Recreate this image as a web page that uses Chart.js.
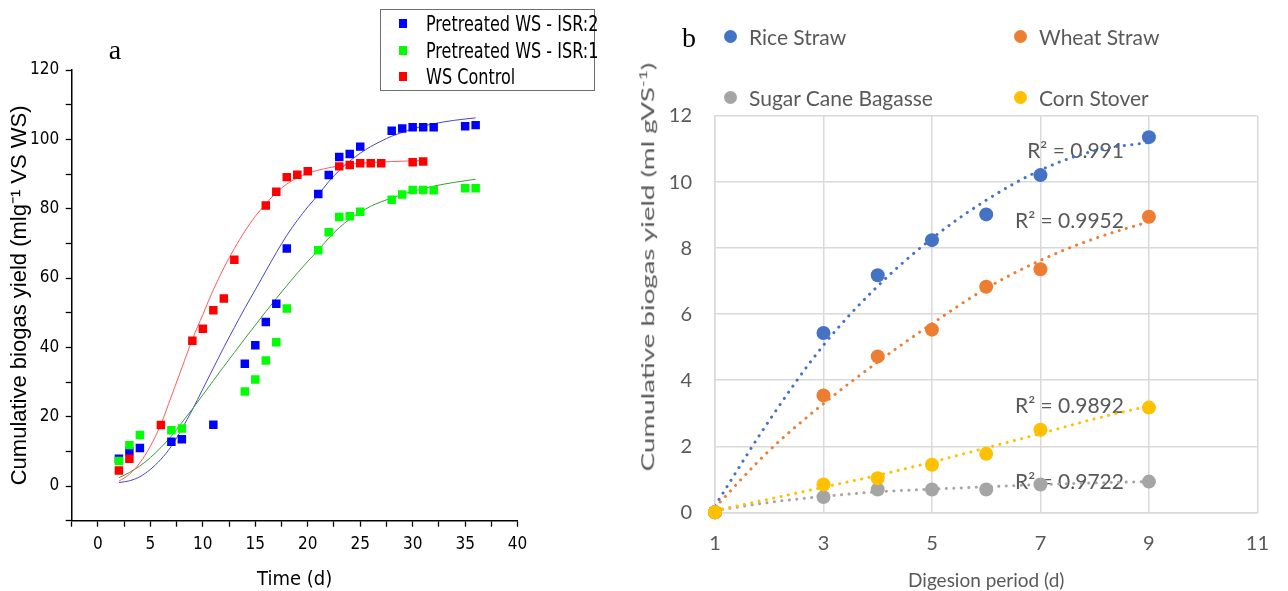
<!DOCTYPE html>
<html lang="en">
<head>
    <meta charset="UTF-8">
    <meta name="viewport" content="width=device-width, initial-scale=1.0">
    <title>Cumulative biogas yield</title>
    <script src="https://cdn.jsdelivr.net/npm/chart.js"></script>
    <style>
        html, body { margin: 0; padding: 0; background: #fff; }
        .page { position: relative; width: 1288px; height: 591px; overflow: hidden; }
        .chart-box { position: absolute; top: 0; height: 591px; }
        #boxA { left: 0; width: 640px; }
        #boxB { left: 640px; width: 648px; }

        .panel-tag { position: absolute; font-family: 'Liberation Serif', 'Times New Roman', serif;
                     font-size: 28px; line-height: 28px; color: #000; transform: translate(-50%, -50%); }

        /* legend of panel a */
        .legend-a { position: absolute; left: 380px; top: 9px; width: 215px; height: 82px;
                    border: 1px solid #6e6e6e; box-sizing: border-box; background: #fff;
                    font-family: 'Liberation Sans Narrow', 'DejaVu Sans Condensed', 'Roboto', sans-serif;
                    font-size: 21px; color: #000; }
        .legend-a .item { position: absolute; left: 45px; height: 22px; line-height: 22px; white-space: nowrap; }
        .legend-a .item b { font-weight: normal; display: inline-block; transform: scaleX(0.85); transform-origin: left center; }
        .legend-a .mark { position: absolute; left: -27px; top: 6px; width: 8px; height: 9px; }

        /* legend of panel b */
        .legend-b { position: absolute; height: 24px; line-height: 24px; white-space: nowrap;
                    font-family: Lato, 'Open Sans', sans-serif; font-size: 21px; color: #595959; }
        .legend-b .dot { position: absolute; left: -25px; top: 5px; width: 13px; height: 13px; border-radius: 50%; }

        .ytitle-b { position: absolute; left: 647px; top: 267px; white-space: nowrap;
                    font-family: Lato, 'Open Sans', sans-serif; font-size: 17px; color: #595959;
                    transform: translate(-50%, -50%) rotate(-90deg) scaleX(1.63); }
        .ytitle-b sup { font-size: 11px; }
    </style>
</head>
<body>
<div class="page">
    <div class="chart-box" id="boxA"><canvas id="chartA"></canvas></div>
    <div class="chart-box" id="boxB"><canvas id="chartB"></canvas></div>

    <div class="panel-tag" style="left:115px; top:50px;">a</div>
    <div class="panel-tag" style="left:689px; top:38px;">b</div>

    <div class="legend-a">
        <div class="item" style="top:3px;"><span class="mark" style="background:#0000ff"></span><b>Pretreated WS - ISR:2</b></div>
        <div class="item" style="top:30px;"><span class="mark" style="background:#00ff00"></span><b>Pretreated WS - ISR:1</b></div>
        <div class="item" style="top:56px;"><span class="mark" style="background:#ff0000"></span><b>WS Control</b></div>
    </div>

    <div class="legend-b" style="left:749px; top:25px;"><span class="dot" style="background:#4472c4"></span>Rice Straw</div>
    <div class="legend-b" style="left:1039px; top:25px;"><span class="dot" style="background:#ed7d31"></span>Wheat Straw</div>
    <div class="legend-b" style="left:749px; top:86px;"><span class="dot" style="background:#a5a5a5"></span>Sugar Cane Bagasse</div>
    <div class="legend-b" style="left:1039px; top:86px;"><span class="dot" style="background:#ffc000"></span>Corn Stover</div>

    <div class="ytitle-b">Cumulative biogas yield (ml gVS<sup>-1</sup>)</div>
</div>

<script>
    // ---- panel a: measured points ----
    const daysIsr2 = [2, 3, 4, 7, 8, 11, 14, 15, 16, 17, 18, 21, 22, 23, 24, 25, 28, 29, 30, 31, 32, 35, 36];
    const pretreatedIsr2 = [7.9, 10, 11, 12.8, 13.5, 17.7, 35.3, 40.6, 47.3, 52.6, 68.5, 84.2, 89.7, 94.9, 95.8, 97.9, 102.5, 103.1, 103.5, 103.5, 103.5, 103.8, 104.1];
    const daysIsr1 = [2, 3, 4, 7, 8, 14, 15, 16, 17, 18, 21, 22, 23, 24, 25, 28, 29, 30, 31, 32, 35, 36];
    const pretreatedIsr1 = [7.2, 11.8, 14.7, 16.1, 16.6, 27.3, 30.7, 36.2, 41.5, 51.2, 68, 73.2, 77.6, 77.8, 79.1, 82.6, 84.1, 85.4, 85.4, 85.3, 85.9, 85.9];
    const daysControl = [2, 3, 6, 9, 10, 11, 12, 13, 16, 17, 18, 19, 20, 23, 24, 25, 26, 27, 30, 31];
    const wsControl = [4.5, 7.9, 17.6, 41.9, 45.4, 50.7, 54.1, 65.3, 80.9, 84.9, 89.1, 89.8, 90.8, 92.2, 92.6, 93.1, 93.1, 93.1, 93.4, 93.6];

    // ---- panel a: fitted curves ----
    const fitDaysIsr2 = [2, 3, 4, 5, 6, 7, 8, 9, 10, 11, 12, 13, 14, 15, 16, 17, 18, 19, 20, 21, 22, 23, 24, 25, 26, 27, 28, 29, 30, 32, 34, 36];
    const fitIsr2 = [1.0, 1.5, 2.7, 4.8, 7.7, 11.5, 16.5, 22, 28, 34, 40, 45.7, 51.3, 56.6, 62, 67.3, 72.3, 76.6, 80.5, 84, 87.8, 91, 93.7, 96, 97.9, 99.5, 100.9, 102, 103, 104.5, 105.5, 106.2];
    const fitDaysIsr1 = [2, 3, 4, 5, 6, 7, 8, 9, 10, 11, 12, 13, 14, 15, 16, 17, 18, 19, 20, 21, 22, 23, 24, 25, 26, 27, 28, 30, 32, 34, 36];
    const fitIsr1 = [2.4, 3.9, 5.8, 8.2, 11.1, 14.4, 18.3, 22.2, 26.3, 30.4, 34.5, 38.5, 42.5, 46.4, 50.3, 54.1, 57.8, 61.4, 64.8, 68, 71.5, 74.5, 77, 79, 80.7, 82, 83.1, 85, 86.5, 87.6, 88.5];
    const fitDaysControl = [2, 3, 4, 5, 6, 7, 8, 9, 10, 11, 12, 13, 14, 15, 16, 17, 18, 19, 20, 22, 24, 26, 28, 31];
    const fitControl = [1.4, 3.4, 6.7, 11.5, 17.8, 25.9, 34.1, 42.3, 49.5, 56.6, 62.9, 68.5, 73.5, 77.8, 81.4, 84.6, 87.1, 88.9, 90.2, 91.8, 92.8, 93.3, 93.6, 93.9];

    // ---- panel b: measured points ----
    const digestionDays = [1, 3, 4, 5, 6, 7, 9];
    const riceStraw = [0, 5.43, 7.18, 8.24, 9.02, 10.21, 11.36];
    const wheatStraw = [0, 3.54, 4.72, 5.53, 6.83, 7.36, 8.95];
    const sugarCaneBagasse = [0, 0.46, 0.69, 0.69, 0.69, 0.84, 0.93];
    const cornStover = [0, 0.84, 1.03, 1.44, 1.77, 2.5, 3.17];

    // ---- panel b: polynomial trendlines ----
    const trendDays = [1, 2, 3, 4, 5, 6, 7, 8, 9];
    const riceTrend = [0.2, 2.78, 5.06, 6.85, 8.29, 9.45, 10.36, 10.95, 11.2];
    const wheatTrend = [0.15, 1.87, 3.29, 4.55, 5.71, 6.78, 7.63, 8.29, 8.8];
    const bagasseTrend = [0.05, 0.3, 0.48, 0.62, 0.7, 0.77, 0.84, 0.89, 0.93];
    const cornTrend = [0.05, 0.4, 0.76, 1.12, 1.52, 1.95, 2.38, 2.83, 3.22];
    const rSquared = ['0.991', '0.9952', '0.9892', '0.9722'];

    // where the R² texts sit (right end, in axis units)
    const r2LabelX = 8.54;
    const r2LabelY = [10.92, 8.8, 3.2, 0.9];

    function pairs(xs, ys) {
        return xs.map((x, i) => ({ x: x, y: ys[i] }));
    }

    const narrow = "'Liberation Sans Narrow', 'DejaVu Sans Condensed', 'Roboto', sans-serif";
    const calibriLike = "Lato, 'Open Sans', sans-serif";

    // Grafik a
    new Chart(document.getElementById('chartA'), {
        type: 'scatter',
        data: {
            datasets: [
                { label: 'WS Control', data: pairs(daysControl, wsControl), pointStyle: 'rect', pointRadius: 6,
                  backgroundColor: '#ff0000', borderWidth: 0, order: 1 },
                { label: 'Pretreated WS - ISR:1', data: pairs(daysIsr1, pretreatedIsr1), pointStyle: 'rect', pointRadius: 6,
                  backgroundColor: '#00ff00', borderWidth: 0, order: 2 },
                { label: 'Pretreated WS - ISR:2', data: pairs(daysIsr2, pretreatedIsr2), pointStyle: 'rect', pointRadius: 6,
                  backgroundColor: '#0000ff', borderWidth: 0, order: 3 },
                { label: 'fit control', data: pairs(fitDaysControl, fitControl), showLine: true, pointRadius: 0,
                  borderColor: '#ff5a5a', borderWidth: 1, cubicInterpolationMode: 'monotone', order: 4 },
                { label: 'fit ISR:1', data: pairs(fitDaysIsr1, fitIsr1), showLine: true, pointRadius: 0,
                  borderColor: '#3a9a3a', borderWidth: 1, cubicInterpolationMode: 'monotone', order: 5 },
                { label: 'fit ISR:2', data: pairs(fitDaysIsr2, fitIsr2), showLine: true, pointRadius: 0,
                  borderColor: '#4646c8', borderWidth: 1, cubicInterpolationMode: 'monotone', order: 6 }
            ]
        },
        options: {
            responsive: true,
            maintainAspectRatio: false,
            animation: false,
            layout: { padding: { top: 70, right: 122.4, left: 0, bottom: 0 } },
            plugins: { legend: { display: false }, tooltip: { enabled: false } },
            scales: {
                x: {
                    type: 'linear', min: -2.5, max: 40,
                    afterFit: s => { s.height = 70.3; },
                    grid: { drawOnChartArea: false, drawTicks: true, tickLength: 6, color: '#000', tickWidth: 1.3 },
                    border: { display: true, color: '#000', width: 1.5 },
                    ticks: { stepSize: 2.5, autoSkip: false, maxRotation: 0, padding: 8, color: '#000',
                             font: { family: narrow, size: 17 },
                             callback: v => (v % 5 === 0 ? v : '') },
                    title: { display: true, text: 'Time (d)', color: '#000',
                             font: { family: narrow, size: 20, lineHeight: 1 }, padding: { top: 0, bottom: 1 } }
                },
                y: {
                    type: 'linear', min: -10, max: 120,
                    afterFit: s => { s.width = 71.7; },
                    grid: { drawOnChartArea: false, drawTicks: true, tickLength: 6, color: '#000', tickWidth: 1.3 },
                    border: { display: true, color: '#000', width: 1.5 },
                    ticks: { stepSize: 10, autoSkip: false, padding: 6.5, color: '#000',
                             font: { family: narrow, size: 17 },
                             callback: v => (v % 20 === 0 ? v : '') },
                    title: { display: true, text: 'Cumulative biogas yield (mlg\u207B\u00B9 VS WS)', color: '#000',
                             font: { family: "'Liberation Sans', Arial, sans-serif", size: 22, lineHeight: 1 },
                             padding: { top: 9.4, bottom: 0 } }
                }
            }
        }
    });

    // R² yazıları
    const r2Labels = {
        id: 'r2Labels',
        beforeDatasetsDraw(chart) {
            const { ctx, scales: { x, y } } = chart;
            ctx.save();
            ctx.font = '21px ' + calibriLike;
            ctx.fillStyle = '#595959';
            ctx.textAlign = 'right';
            ctx.textBaseline = 'middle';
            rSquared.forEach((r, i) => {
                ctx.fillText('R\u00B2 = ' + r, x.getPixelForValue(r2LabelX), y.getPixelForValue(r2LabelY[i]));
            });
            ctx.restore();
        }
    };

    const dotted = { showLine: true, pointRadius: 0, borderWidth: 3, borderDash: [0.1, 7.4],
                     borderCapStyle: 'round', cubicInterpolationMode: 'monotone' };

    // Grafik b
    new Chart(document.getElementById('chartB'), {
        type: 'scatter',
        data: {
            datasets: [
                { label: 'Corn Stover', data: pairs(digestionDays, cornStover), pointRadius: 7, borderWidth: 0,
                  backgroundColor: '#ffc000', clip: false, order: 1 },
                { label: 'Sugar Cane Bagasse', data: pairs(digestionDays, sugarCaneBagasse), pointRadius: 7, borderWidth: 0,
                  backgroundColor: '#a5a5a5', clip: false, order: 2 },
                { label: 'Wheat Straw', data: pairs(digestionDays, wheatStraw), pointRadius: 7, borderWidth: 0,
                  backgroundColor: '#ed7d31', clip: false, order: 3 },
                { label: 'Rice Straw', data: pairs(digestionDays, riceStraw), pointRadius: 7, borderWidth: 0,
                  backgroundColor: '#4472c4', clip: false, order: 4 },
                Object.assign({ label: 'Corn trend', data: pairs(trendDays, cornTrend), borderColor: '#ffc000', order: 5 }, dotted),
                Object.assign({ label: 'Bagasse trend', data: pairs(trendDays, bagasseTrend), borderColor: '#a5a5a5', order: 6 }, dotted),
                Object.assign({ label: 'Wheat trend', data: pairs(trendDays, wheatTrend), borderColor: '#ed7d31', order: 7 }, dotted),
                Object.assign({ label: 'Rice trend', data: pairs(trendDays, riceTrend), borderColor: '#4472c4', order: 8 }, dotted)
            ]
        },
        options: {
            responsive: true,
            maintainAspectRatio: false,
            animation: false,
            layout: { padding: { top: 116, right: 27.5, left: 0, bottom: 0 } },
            plugins: { legend: { display: false }, tooltip: { enabled: false } },
            scales: {
                x: {
                    type: 'linear', min: 1, max: 11,
                    afterFit: s => { s.height = 78.7; },
                    grid: { color: '#d9d9d9', lineWidth: 1.5, drawTicks: false },
                    border: { color: '#d9d9d9', width: 1.5 },
                    ticks: { stepSize: 2, autoSkip: false, maxRotation: 0, padding: 19, color: '#595959',
                             font: { family: calibriLike, size: 20 } },
                    title: { display: true, text: 'Digesion period (d)', color: '#595959',
                             font: { family: calibriLike, size: 19, lineHeight: 1 }, padding: { top: 0, bottom: 1 } }
                },
                y: {
                    type: 'linear', min: 0, max: 12,
                    afterFit: s => { s.width = 75; },
                    grid: { color: '#d9d9d9', lineWidth: 1.5, drawTicks: false },
                    border: { color: '#d9d9d9', width: 1.5 },
                    ticks: { stepSize: 2, autoSkip: false, padding: 23, color: '#595959',
                             font: { family: calibriLike, size: 20 } }
                }
            }
        },
        plugins: [r2Labels]
    });
</script>
</body>
</html>
